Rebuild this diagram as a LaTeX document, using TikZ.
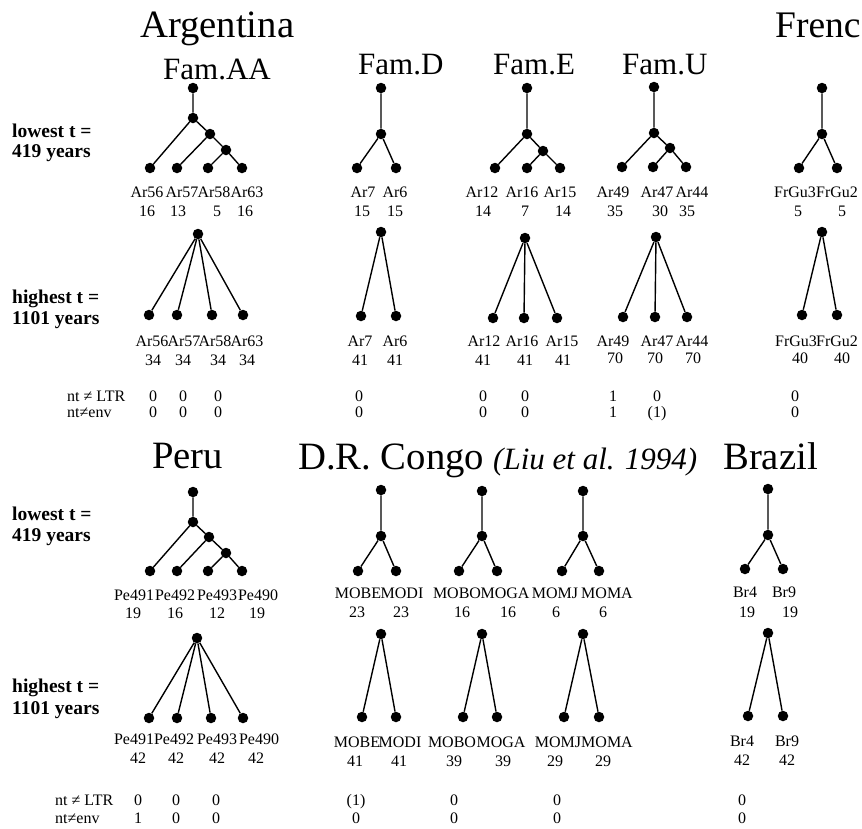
\documentclass[tikz,border=0pt]{standalone}
\usepackage{fontspec}
\setmainfont{Liberation Serif}
\tikzset{
 dotnode/.style={circle,fill=black,draw=none,inner sep=0pt,minimum size=10.5pt},
 edge/.style={line width=1.4pt},
 bigtitle/.style={anchor=base west,inner sep=0pt,font=\fontsize{38.7}{41}\selectfont},
 famtitle/.style={anchor=base west,inner sep=0pt,font=\fontsize{31}{34}\selectfont},
 italtitle/.style={anchor=base west,inner sep=0pt,font=\fontsize{31}{34}\selectfont\itshape},
 lbltext/.style={inner sep=0pt,text height=11pt,text depth=0pt,font=\fontsize{16}{18}\selectfont},
 rowlbl/.style={anchor=base west,inner sep=0pt,font=\fontsize{19.5}{21}\selectfont\bfseries},
 ntlbl/.style={anchor=west,inner sep=0pt,text height=11pt,text depth=0pt,font=\fontsize{16}{18}\selectfont},
}
\newcommand\dotn[3]{\node[dotnode] (#1) at (#2,#3) {};}
\newcommand\lbl[4]{\node[lbltext] (#1) at (#2,#3) {#4};}
\begin{document}
\begin{tikzpicture}[x=1pt,y=-1pt]
\useasboundingbox (0,0) rectangle (862,828);
% ---------- titles ----------
\node[bigtitle] (tArg) at (140,37) {Argentina};
\node[bigtitle,font=\fontsize{37.5}{40}\selectfont] (tFre) at (775,37) {Frenc};
\node[famtitle] (tAA) at (163,79) {Fam.AA};
\node[famtitle] (tD) at (358,74) {Fam.D};
\node[famtitle] (tE) at (493,74) {Fam.E};
\node[famtitle] (tU) at (622,74) {Fam.U};
\node[bigtitle] (tPeru) at (152,468) {Peru};
\node[bigtitle] (tCongo) at (298,469) {D.R. Congo};
\node[italtitle] (tLiu) at (493,469) {(Liu et al. 1994)};
\node[bigtitle] (tBraz) at (723,469) {Brazil};
% ---------- row labels ----------
\node[rowlbl] (rl1a) at (12,137) {lowest t =};
\node[rowlbl] (rl1b) at (12,157) {419 years};
\node[rowlbl] (rh1a) at (12,303) {highest t =};
\node[rowlbl] (rh1b) at (12,324) {1101 years};
\node[rowlbl] (rl2a) at (12,520) {lowest t =};
\node[rowlbl] (rl2b) at (12,541) {419 years};
\node[rowlbl] (rh2a) at (12,692) {highest t =};
\node[rowlbl] (rh2b) at (12,714) {1101 years};
\node[ntlbl] (nt1a) at (67,396) {nt ≠ LTR};
\node[ntlbl] (nt1b) at (67,412) {nt≠env};
\node[ntlbl] (nt2a) at (55,800) {nt ≠ LTR};
\node[ntlbl] (nt2b) at (55,818) {nt≠env};
% ================= TOP, lowest =================
% Fam.AA
\dotn{a1r}{193}{88} \dotn{a1i}{193}{118} \dotn{a1m}{210}{134} \dotn{a1n}{226}{150}
\dotn{a1a}{150}{168} \dotn{a1b}{177}{168} \dotn{a1c}{208}{168} \dotn{a1d}{242}{168}
\draw[edge] (a1r)--(a1i) (a1i)--(a1a) (a1i)--(a1m) (a1m)--(a1b) (a1m)--(a1n) (a1n)--(a1c) (a1n)--(a1d);
\lbl{la1a}{147}{192}{Ar56} \lbl{la1b}{182}{192}{Ar57} \lbl{la1c}{214}{192}{Ar58} \lbl{la1d}{247}{192}{Ar63}
\lbl{na1a}{147}{211}{16} \lbl{na1b}{178}{211}{13} \lbl{na1c}{217}{211}{5} \lbl{na1d}{245}{211}{16}
% Fam.D
\dotn{d1r}{381}{88} \dotn{d1i}{381}{134} \dotn{d1a}{357}{168} \dotn{d1b}{396}{168}
\draw[edge] (d1r)--(d1i) (d1i)--(d1a) (d1i)--(d1b);
\lbl{ld1a}{363}{192}{Ar7} \lbl{ld1b}{395}{192}{Ar6}
\lbl{nd1a}{362}{211}{15} \lbl{nd1b}{395}{211}{15}
% Fam.E
\dotn{e1r}{527}{88} \dotn{e1i}{527}{134} \dotn{e1m}{543}{151}
\dotn{e1a}{495}{168} \dotn{e1b}{527}{168} \dotn{e1c}{560}{168}
\draw[edge] (e1r)--(e1i) (e1i)--(e1a) (e1i)--(e1m) (e1m)--(e1b) (e1m)--(e1c);
\lbl{le1a}{482}{192}{Ar12} \lbl{le1b}{522}{192}{Ar16} \lbl{le1c}{560}{192}{Ar15}
\lbl{ne1a}{483}{211}{14} \lbl{ne1b}{525}{211}{7} \lbl{ne1c}{563}{211}{14}
% Fam.U
\dotn{u1r}{654}{87} \dotn{u1i}{654}{133} \dotn{u1m}{670}{148}
\dotn{u1a}{622}{167} \dotn{u1b}{653}{167} \dotn{u1c}{686}{167}
\draw[edge] (u1r)--(u1i) (u1i)--(u1a) (u1i)--(u1m) (u1m)--(u1b) (u1m)--(u1c);
\lbl{lu1a}{613}{192}{Ar49} \lbl{lu1b}{657}{192}{Ar47} \lbl{lu1c}{692}{192}{Ar44}
\lbl{nu1a}{615}{211}{35} \lbl{nu1b}{660}{211}{30} \lbl{nu1c}{687}{211}{35}
% French
\dotn{f1r}{822}{88} \dotn{f1i}{822}{134} \dotn{f1a}{799}{168} \dotn{f1b}{837}{168}
\draw[edge] (f1r)--(f1i) (f1i)--(f1a) (f1i)--(f1b);
\lbl{lf1a}{795}{192}{FrGu3} \lbl{lf1b}{837}{192}{FrGu2}
\lbl{nf1a}{798}{211}{5} \lbl{nf1b}{842}{211}{5}
% ================= TOP, highest =================
\dotn{a2r}{198}{234}
\dotn{a2a}{149}{315} \dotn{a2b}{177}{315} \dotn{a2c}{212}{315} \dotn{a2d}{243}{315}
\draw[edge] (a2r)--(a2a) (a2r)--(a2b) (a2r)--(a2c) (a2r)--(a2d);
\lbl{la2a}{152}{341}{Ar56} \lbl{la2b}{184}{341}{Ar57} \lbl{la2c}{215}{341}{Ar58} \lbl{la2d}{247}{341}{Ar63}
\lbl{na2a}{153}{360}{34} \lbl{na2b}{183}{360}{34} \lbl{na2c}{218}{360}{34} \lbl{na2d}{247}{360}{34}
\lbl{xa1}{153}{396}{0} \lbl{xa2}{183}{396}{0} \lbl{xa3}{218}{396}{0}
\lbl{ya1}{153}{412}{0} \lbl{ya2}{183}{412}{0} \lbl{ya3}{218}{412}{0}
% D
\dotn{d2r}{381}{232} \dotn{d2a}{361}{316} \dotn{d2b}{396}{316}
\draw[edge] (d2r)--(d2a) (d2r)--(d2b);
\lbl{ld2a}{360}{341}{Ar7} \lbl{ld2b}{395}{341}{Ar6}
\lbl{nd2a}{360}{360}{41} \lbl{nd2b}{395}{360}{41}
\lbl{xd1}{359}{396}{0} \lbl{yd1}{359}{412}{0}
% E
\dotn{e2r}{525}{238} \dotn{e2a}{493}{318} \dotn{e2b}{524}{318} \dotn{e2c}{557}{318}
\draw[edge] (e2r)--(e2a) (e2r)--(e2b) (e2r)--(e2c);
\lbl{le2a}{484}{341}{Ar12} \lbl{le2b}{522}{341}{Ar16} \lbl{le2c}{562}{341}{Ar15}
\lbl{ne2a}{483}{360}{41} \lbl{ne2b}{525}{360}{41} \lbl{ne2c}{563}{360}{41}
\lbl{xe1}{483}{396}{0} \lbl{xe2}{525}{396}{0}
\lbl{ye1}{483}{412}{0} \lbl{ye2}{525}{412}{0}
% U
\dotn{u2r}{656}{237} \dotn{u2a}{623}{317} \dotn{u2b}{655}{317} \dotn{u2c}{687}{317}
\draw[edge] (u2r)--(u2a) (u2r)--(u2b) (u2r)--(u2c);
\lbl{lu2a}{613}{341}{Ar49} \lbl{lu2b}{657}{341}{Ar47} \lbl{lu2c}{692}{341}{Ar44}
\lbl{nu2a}{615}{358}{70} \lbl{nu2b}{655}{358}{70} \lbl{nu2c}{693}{358}{70}
\lbl{xu1}{613}{396}{1} \lbl{xu2}{657}{396}{0}
\lbl{yu1}{613}{412}{1} \lbl{yu2}{657}{412}{(1)}
% French
\dotn{f2r}{822}{232} \dotn{f2a}{802}{315} \dotn{f2b}{837}{315}
\draw[edge] (f2r)--(f2a) (f2r)--(f2b);
\lbl{lf2a}{796}{341}{FrGu3} \lbl{lf2b}{837}{341}{FrGu2}
\lbl{nf2a}{800}{358}{40} \lbl{nf2b}{842}{358}{40}
\lbl{xf1}{795}{396}{0} \lbl{yf1}{795}{412}{0}
% ================= BOTTOM, lowest =================
% Peru
\dotn{p1r}{193}{492} \dotn{p1i}{193}{522} \dotn{p1m}{209}{537} \dotn{p1n}{226}{553}
\dotn{p1a}{150}{571} \dotn{p1b}{177}{571} \dotn{p1c}{208}{571} \dotn{p1d}{242}{571}
\draw[edge] (p1r)--(p1i) (p1i)--(p1a) (p1i)--(p1m) (p1m)--(p1b) (p1m)--(p1n) (p1n)--(p1c) (p1n)--(p1d);
\lbl{lp1a}{134}{595}{Pe491} \lbl{lp1b}{175}{595}{Pe492} \lbl{lp1c}{217}{595}{Pe493} \lbl{lp1d}{258}{595}{Pe490}
\lbl{np1a}{133}{613}{19} \lbl{np1b}{175}{613}{16} \lbl{np1c}{217}{613}{12} \lbl{np1d}{257}{613}{19}
% Congo 1
\dotn{c1r}{381}{490} \dotn{c1i}{381}{536} \dotn{c1a}{358}{571} \dotn{c1b}{396}{571}
\draw[edge] (c1r)--(c1i) (c1i)--(c1a) (c1i)--(c1b);
\lbl{lc1a}{358}{593}{MOBE} \lbl{lc1b}{402}{593}{MODI}
\lbl{nc1a}{357}{612}{23} \lbl{nc1b}{401}{612}{23}
% Congo 2
\dotn{g1r}{482}{491} \dotn{g1i}{482}{536} \dotn{g1a}{459}{571} \dotn{g1b}{497}{571}
\draw[edge] (g1r)--(g1i) (g1i)--(g1a) (g1i)--(g1b);
\lbl{lg1a}{457}{593}{MOBO} \lbl{lg1b}{505}{593}{MOGA}
\lbl{ng1a}{462}{612}{16} \lbl{ng1b}{508}{612}{16}
% Congo 3
\dotn{m1r}{583}{491} \dotn{m1i}{583}{536} \dotn{m1a}{562}{571} \dotn{m1b}{599}{571}
\draw[edge] (m1r)--(m1i) (m1i)--(m1a) (m1i)--(m1b);
\lbl{lm1a}{555}{593}{MOMJ} \lbl{lm1b}{607}{593}{MOMA}
\lbl{nm1a}{556}{612}{6} \lbl{nm1b}{603}{612}{6}
% Brazil
\dotn{b1r}{768}{489} \dotn{b1i}{768}{535} \dotn{b1a}{745}{569} \dotn{b1b}{783}{569}
\draw[edge] (b1r)--(b1i) (b1i)--(b1a) (b1i)--(b1b);
\lbl{lb1a}{745}{592}{Br4} \lbl{lb1b}{784}{592}{Br9}
\lbl{nb1a}{747}{612}{19} \lbl{nb1b}{790}{612}{19}
% ================= BOTTOM, highest =================
% Peru
\dotn{p2r}{197}{638}
\dotn{p2a}{149}{718} \dotn{p2b}{177}{718} \dotn{p2c}{211}{718} \dotn{p2d}{243}{718}
\draw[edge] (p2r)--(p2a) (p2r)--(p2b) (p2r)--(p2c) (p2r)--(p2d);
\lbl{lp2a}{134}{739}{Pe491} \lbl{lp2b}{174}{739}{Pe492} \lbl{lp2c}{217}{739}{Pe493} \lbl{lp2d}{259}{739}{Pe490}
\lbl{np2a}{138}{758}{42} \lbl{np2b}{176}{758}{42} \lbl{np2c}{217}{758}{42} \lbl{np2d}{256}{758}{42}
\lbl{xp1}{138}{800}{0} \lbl{xp2}{176}{800}{0} \lbl{xp3}{216}{800}{0}
\lbl{yp1}{138}{818}{1} \lbl{yp2}{176}{818}{0} \lbl{yp3}{216}{818}{0}
% Congo 1
\dotn{c2r}{381}{634} \dotn{c2a}{362}{717} \dotn{c2b}{396}{717}
\draw[edge] (c2r)--(c2a) (c2r)--(c2b);
\lbl{lc2a}{357}{742}{MOBE} \lbl{lc2b}{400}{742}{MODI}
\lbl{nc2a}{355}{761}{41} \lbl{nc2b}{399}{761}{41}
\lbl{xc1}{356}{800}{(1)} \lbl{yc1}{356}{818}{0}
% Congo 2
\dotn{g2r}{482}{634} \dotn{g2a}{463}{717} \dotn{g2b}{497}{717}
\draw[edge] (g2r)--(g2a) (g2r)--(g2b);
\lbl{lg2a}{452}{742}{MOBO} \lbl{lg2b}{501}{742}{MOGA}
\lbl{ng2a}{454}{761}{39} \lbl{ng2b}{503}{761}{39}
\lbl{xg1}{454}{800}{0} \lbl{yg1}{454}{818}{0}
% Congo 3
\dotn{m2r}{583}{634} \dotn{m2a}{564}{717} \dotn{m2b}{599}{717}
\draw[edge] (m2r)--(m2a) (m2r)--(m2b);
\lbl{lm2a}{558}{742}{MOMJ} \lbl{lm2b}{607}{742}{MOMA}
\lbl{nm2a}{555}{761}{29} \lbl{nm2b}{603}{761}{29}
\lbl{xm1}{557}{800}{0} \lbl{ym1}{557}{818}{0}
% Brazil
\dotn{b2r}{768}{633} \dotn{b2a}{748}{716} \dotn{b2b}{783}{716}
\draw[edge] (b2r)--(b2a) (b2r)--(b2b);
\lbl{lb2a}{742}{741}{Br4} \lbl{lb2b}{787}{741}{Br9}
\lbl{nb2a}{742}{760}{42} \lbl{nb2b}{787}{760}{42}
\lbl{xb1}{742}{800}{0} \lbl{yb1}{742}{818}{0}
\end{tikzpicture}
\end{document}
